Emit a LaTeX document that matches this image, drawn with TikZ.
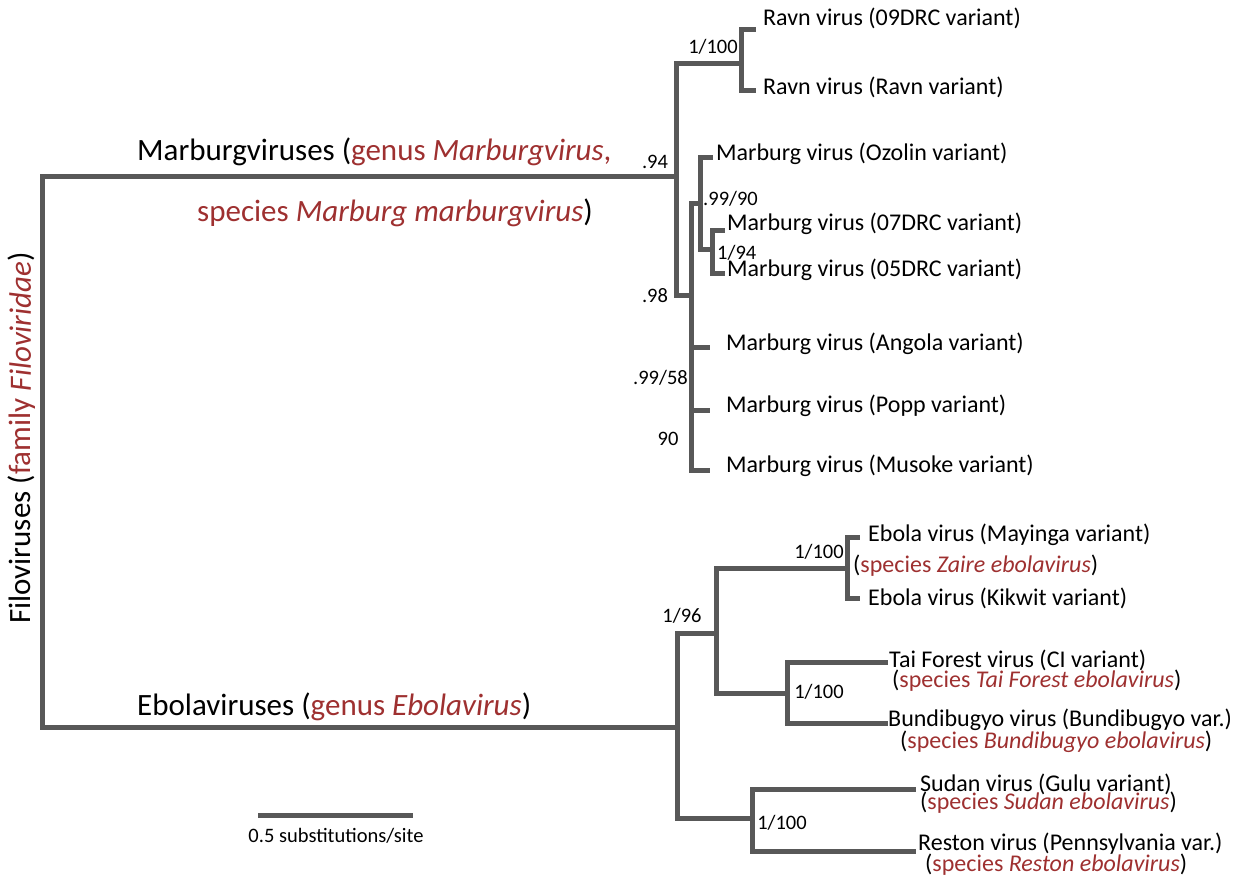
\documentclass[tikz,border=0pt]{standalone}
\usepackage{fontspec}
\setmainfont{Carlito}
\definecolor{br}{RGB}{88,88,88}
\definecolor{sp}{RGB}{158,48,48}
\tikzset{
  branch/.style={draw=br,line width=5pt,line join=miter,line cap=rect},
  taxon/.style={anchor=west,inner sep=0pt,font=\fontsize{24}{26}\selectfont},
  spec/.style={anchor=west,inner sep=0pt,font=\fontsize{24}{26}\selectfont},
  supp/.style={inner sep=0pt,font=\fontsize{20.5}{22}\selectfont},
  clade/.style={inner sep=0pt,font=\fontsize{31}{34}\selectfont}
}
\newcommand{\spc}[1]{\textcolor{sp}{#1}}
\begin{document}
\begin{tikzpicture}[x=1pt,y=-1pt]
\useasboundingbox (0,0) rectangle (1250,881);
% coordinates
\coordinate (root) at (42,450);
\coordinate (mb) at (676,176);
\coordinate (eb) at (677,727);
\coordinate (ravn) at (741,63);
\coordinate (m98) at (691,295);
\coordinate (m9990) at (700,203);
\coordinate (m194) at (712,249);
\coordinate (e196) at (716,633);
\coordinate (ez) at (847,568);
\coordinate (etb) at (787,693);
\coordinate (esr) at (752,818);
\coordinate (tR1) at (753,29);
\coordinate (tR2) at (753,90);
\coordinate (tOz) at (710,157);
\coordinate (t07) at (722,230);
\coordinate (t05) at (722,273);
\coordinate (tAng) at (707,347);
\coordinate (tPopp) at (707,410);
\coordinate (tMus) at (707,470);
\coordinate (tMay) at (857,537);
\coordinate (tKik) at (857,598);
\coordinate (tTai) at (885,662);
\coordinate (tBun) at (885,723);
\coordinate (tSud) at (913,789);
\coordinate (tRes) at (913,851);
\coordinate (sb1) at (260,815);
\coordinate (sb2) at (410,815);
% branches
\draw[branch] (mb) -- (mb -| root) -- (eb -| root) -- (eb);
\draw[branch] (ravn) -- (ravn -| mb) -- (m98 -| mb) -- (m98);
\draw[branch] (tR1) -- (tR1 -| ravn) -- (tR2 -| ravn) -- (tR2);
\draw[branch] (m9990) -- (m9990 -| m98) -- (tMus -| m98) -- (tMus);
\draw[branch] (tAng -| m98) -- (tAng);
\draw[branch] (tPopp -| m98) -- (tPopp);
\draw[branch] (tOz) -- (tOz -| m9990) -- (m194 -| m9990) -- (m194);
\draw[branch] (t07) -- (t07 -| m194) -- (t05 -| m194) -- (t05);
\draw[branch] (e196) -- (e196 -| eb) -- (esr -| eb) -- (esr);
\draw[branch] (ez) -- (ez -| e196) -- (etb -| e196) -- (etb);
\draw[branch] (tMay) -- (tMay -| ez) -- (tKik -| ez) -- (tKik);
\draw[branch] (tTai) -- (tTai -| etb) -- (tBun -| etb) -- (tBun);
\draw[branch] (tSud) -- (tSud -| esr) -- (tRes -| esr) -- (tRes);
\draw[branch] (sb1) -- (sb2);
% tip labels
\node[taxon] (lR1) at (763,18) {Ravn virus (09DRC variant)};
\node[taxon] (lR2) at (763,87) {Ravn virus (Ravn variant)};
\node[taxon] (lOz) at (716,154) {Marburg virus (Ozolin variant)};
\node[taxon] (l07) at (727,224) {Marburg virus (07DRC variant)};
\node[taxon] (l05) at (727,270) {Marburg virus (05DRC variant)};
\node[taxon] (lAng) at (726,344) {Marburg virus (Angola variant)};
\node[taxon] (lPopp) at (726,406) {Marburg virus (Popp variant)};
\node[taxon] (lMus) at (726,466) {Marburg virus (Musoke variant)};
\node[taxon] (lMay) at (868,535) {Ebola virus (Mayinga variant)};
\node[spec] (sZ) at (853,566) {(\spc{species \textit{Zaire ebolavirus}})};
\node[taxon] (lKik) at (868,598) {Ebola virus (Kikwit variant)};
\node[taxon] (lTai) at (889,660) {Tai Forest virus (CI variant)};
\node[spec] (sT) at (892,681) {(\spc{species \textit{Tai Forest ebolavirus}})};
\node[taxon] (lBun) at (888,720) {Bundibugyo virus (Bundibugyo var.)};
\node[spec] (sB) at (900,742) {(\spc{species \textit{Bundibugyo ebolavirus}})};
\node[taxon] (lSud) at (920,784) {Sudan virus (Gulu variant)};
\node[spec] (sS) at (920,803) {(\spc{species \textit{Sudan ebolavirus}})};
\node[taxon] (lRes) at (918,844) {Reston virus (Pennsylvania var.)};
\node[spec] (sR) at (925,865) {(\spc{species \textit{Reston ebolavirus}})};
% support values
\node[supp] (v1) at (713,47) {1/100};
\node[supp] (v2) at (655,162) {.94};
\node[supp,anchor=west] (v3) at (703,199) {.99/90};
\node[supp,anchor=west] (v4) at (717,253) {1/94};
\node[supp] (v5) at (655,296) {.98};
\node[supp,anchor=east] (v6) at (688,378) {.99/58};
\node[supp] (v7) at (668,439) {90};
\node[supp] (v8) at (819,552) {1/100};
\node[supp] (v9) at (682,616) {1/96};
\node[supp] (v10) at (819,692) {1/100};
\node[supp] (v11) at (782,823) {1/100};
% clade labels
\node[clade,anchor=west] (cM1) at (137,152) {Marburgviruses (\spc{genus \textit{Marburgvirus},}};
\node[clade,anchor=west] (cM2) at (197,213) {\spc{species \textit{Marburg marburgvirus}})};
\node[clade,anchor=west] (cE) at (137,707) {Ebolaviruses (\spc{genus \textit{Ebolavirus}})};
\node[clade,rotate=90] (cF) at (22,438) {Filoviruses (\spc{family \textit{Filoviridae}})};
\node[inner sep=0pt,font=\fontsize{20.5}{22}\selectfont] (sbl) at (336,836) {0.5 substitutions/site};
\end{tikzpicture}
\end{document}
